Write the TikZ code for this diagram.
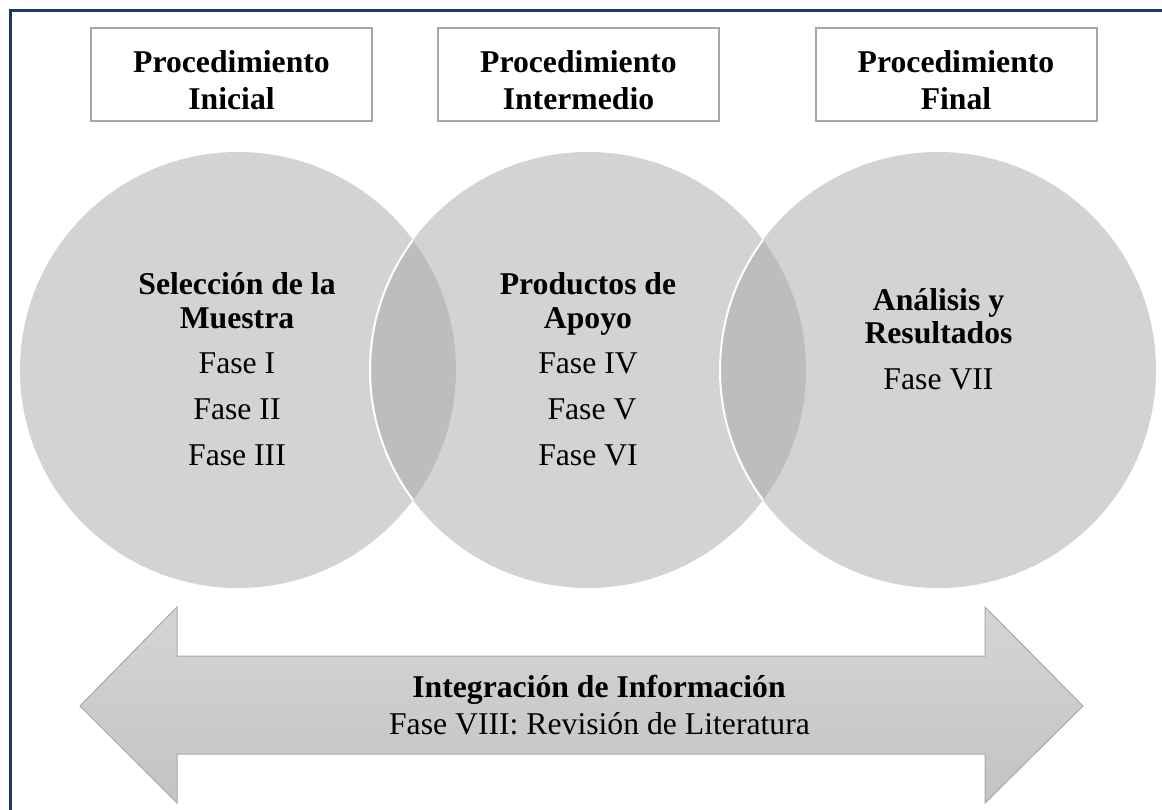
\documentclass[tikz,border=0pt]{standalone}
\usepackage{fontspec}
\setmainfont{Liberation Serif}
\usepackage{tikz}

\definecolor{framenavy}{HTML}{1F3864}
\definecolor{boxline}{HTML}{A6A6A6}
\definecolor{circfill}{HTML}{D3D3D3}
\definecolor{lensfill}{HTML}{BDBDBD}
\definecolor{arrowtop}{HTML}{D5D5D5}
\definecolor{arrowbot}{HTML}{C3C3C3}
\definecolor{arrowline}{HTML}{A8A8A8}

\begin{document}
\begin{tikzpicture}[x=1pt,y=-1pt,
	procbox/.style={draw=boxline,line width=2pt,fill=white,minimum width=281pt,minimum height=93pt,inner sep=0pt},
	headtxt/.style={anchor=base,inner sep=0pt,font=\fontsize{31.7}{38}\selectfont\bfseries},
	fasetxt/.style={anchor=base,inner sep=0pt,font=\fontsize{31.7}{38}\selectfont}]
	\useasboundingbox (0,0) rectangle (1162,810);
	\fill[white] (0,0) rectangle (1162,810);
	\draw[framenavy,line width=3pt] (10,830) -- (10,11) -- (1180,11);
	
	%procedure boxes
	\node[procbox] (bini) at (231.5,74.5) {};
	\node[procbox] (bmed) at (578.5,74.5) {};
	\node[procbox] (bfin) at (956,74.5) {};
	\node[headtxt] (bini1) at (231.5,73) {Procedimiento};
	\node[headtxt] (bini2) at (231.5,110) {Inicial};
	\node[headtxt] (bmed1) at (578.5,73) {Procedimiento};
	\node[headtxt] (bmed2) at (578.5,110) {Intermedio};
	\node[headtxt] (bfin1) at (956,73) {Procedimiento};
	\node[headtxt] (bfin2) at (956,110) {Final};
	
	%circles
	\coordinate (cini) at (238,370);
	\coordinate (cmed) at (588,370);
	\coordinate (cfin) at (938,370);
	\fill[circfill] (cini) circle[radius=218pt];
	\fill[circfill] (cmed) circle[radius=218pt];
	\fill[circfill] (cfin) circle[radius=218pt];
	\begin{scope}
		\clip (cini) circle[radius=218pt];
		\fill[lensfill] (cmed) circle[radius=218pt];
		\draw[white,line width=2pt] (cmed) circle[radius=218pt];
	\end{scope}
	\begin{scope}
		\clip (cmed) circle[radius=218pt];
		\fill[lensfill] (cfin) circle[radius=218pt];
		\draw[white,line width=2pt] (cfin) circle[radius=218pt];
	\end{scope}
	
	\node[headtxt] (sel1) at (237,295) {Selección de la};
	\node[headtxt] (sel2) at (237,328) {Muestra};
	\node[fasetxt] (f1) at (237,373) {Fase I};
	\node[fasetxt] (f2) at (237,419) {Fase II};
	\node[fasetxt] (f3) at (237,465) {Fase III};
	
	\node[headtxt] (prod1) at (588,295) {Productos de};
	\node[headtxt] (prod2) at (588,328) {Apoyo};
	\node[fasetxt] (f4) at (588,373) {Fase IV};
	\node[fasetxt] (f5) at (592,419) {Fase V};
	\node[fasetxt] (f6) at (588,465) {Fase VI};
	
	\node[headtxt] (anal1) at (938.5,311) {Análisis y};
	\node[headtxt] (anal2) at (938.5,344) {Resultados};
	\node[fasetxt] (f7) at (938.5,389) {Fase VII};
	
	%double arrow
	\draw[arrowline,line width=1pt,top color=arrowtop,bottom color=arrowbot]
		(80,706) -- (177,607) -- (177,656) -- (985,656) -- (985,607) -- (1083,706)
		-- (985,803) -- (985,754) -- (177,754) -- (177,803) -- cycle;
	\node[headtxt] (integ) at (599,697) {Integración de Información};
	\node[fasetxt] (f8) at (599.5,734) {Fase VIII: Revisión de Literatura};
\end{tikzpicture}
\end{document}
